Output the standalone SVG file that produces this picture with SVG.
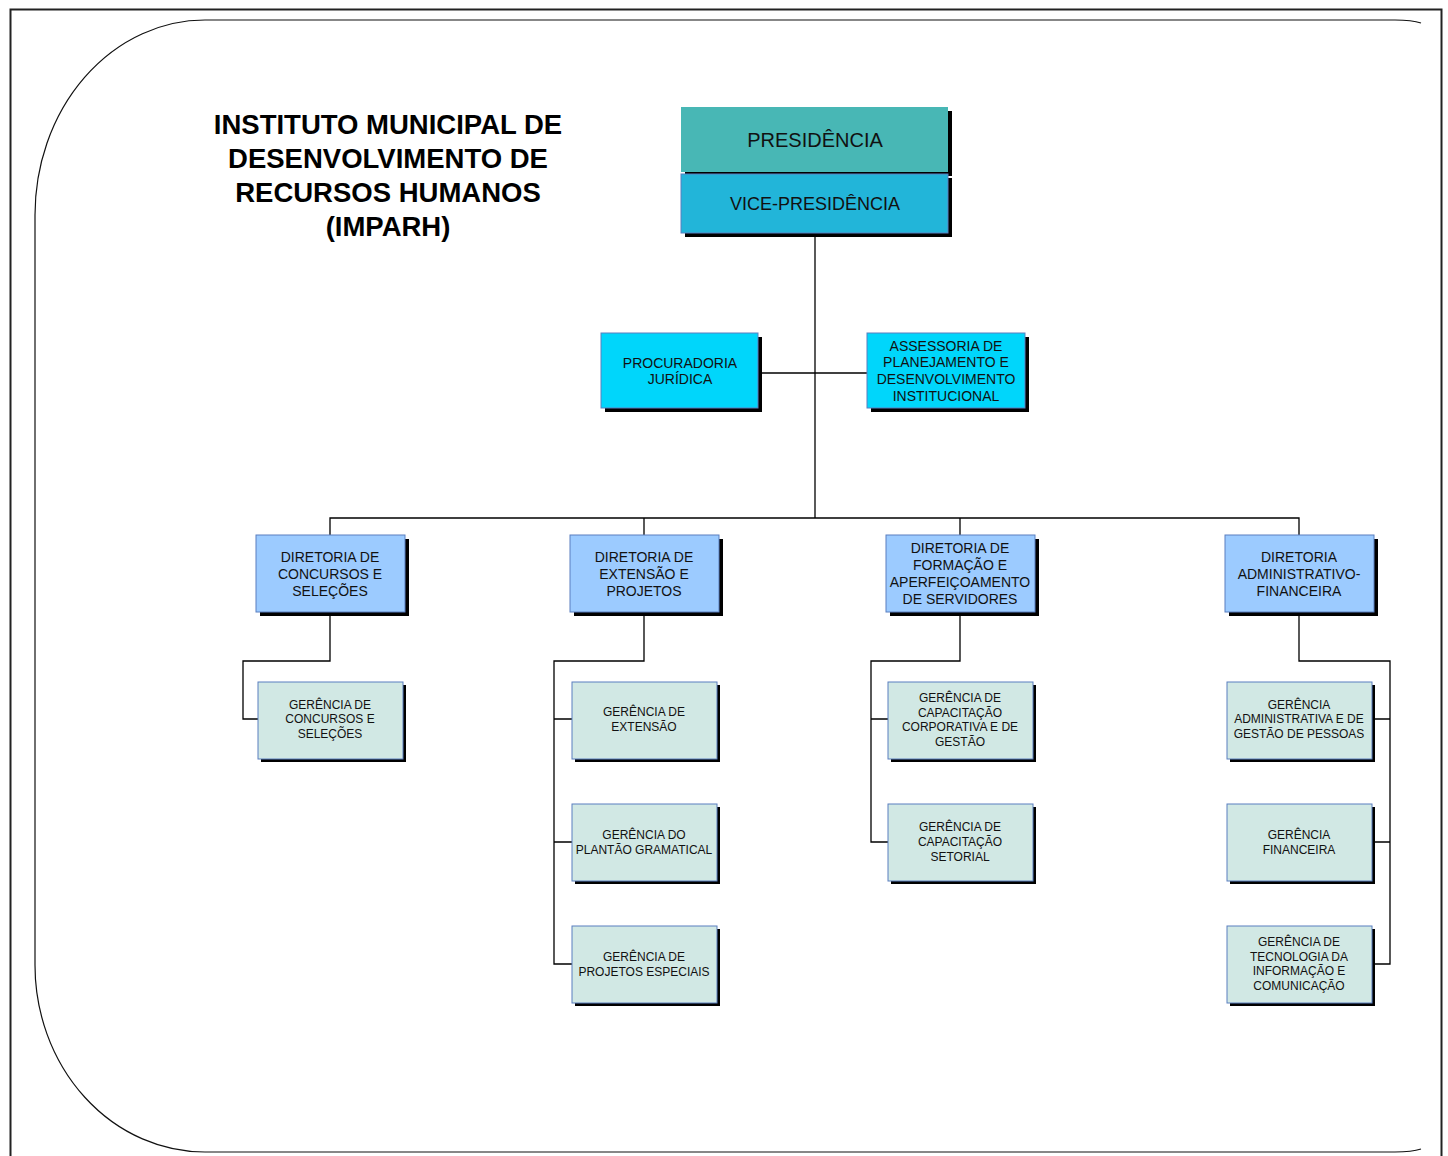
<svg xmlns="http://www.w3.org/2000/svg" width="1448" height="1156" viewBox="0 0 1448 1156">
<style>
.sh{fill:#000}
.b{stroke:#5a7fbf;stroke-width:1}
.pres{fill:#48b7b5}
.vice{fill:#22b5d9}
.ass{fill:#00d6fb}
.dir{fill:#9ccbff}
.ger{fill:#d1e8e4}
.ln{fill:none;stroke:#000;stroke-width:1.3}
text{font-family:"Liberation Sans",Arial,sans-serif;fill:#111;text-anchor:middle}
.t{font-size:27.5px;font-weight:bold;fill:#000}
.p{font-size:20px}
.v{font-size:18px}
.a{font-size:14px}
.d{font-size:14px}
.g{font-size:12px}
</style>
<rect x="0" y="0" width="1448" height="1156" fill="#fff"/>
<rect x="10.5" y="9.5" width="1431" height="1170" fill="none" stroke="#222" stroke-width="2"/>
<path d="M1421 23 Q1412 20 1395 20 L205 20 A170 195 0 0 0 35 215 L35 965 A170 187 0 0 0 205 1152 L1395 1152 Q1412 1152 1421 1149" fill="none" stroke="#111" stroke-width="1.2"/>

<g id="title">
<text class="t" x="388" y="134">INSTITUTO MUNICIPAL DE</text>
<text class="t" x="388" y="168">DESENVOLVIMENTO DE</text>
<text class="t" x="388" y="202">RECURSOS HUMANOS</text>
<text class="t" x="388" y="236">(IMPARH)</text>
</g>

<g id="connectors">
<path class="ln" d="M815 235 V518"/>
<path class="ln" d="M760 373 H867"/>
<path class="ln" d="M330 535 V518 H1299 V535"/>
<path class="ln" d="M644 518 V535"/>
<path class="ln" d="M960 518 V535"/>
<path class="ln" d="M330 615 V661 H243 V719 H258"/>
<path class="ln" d="M644 615 V661 H554 V964 H572 M554 719 H572 M554 842 H572"/>
<path class="ln" d="M960 615 V661 H871 V842 H888 M871 719 H888"/>
<path class="ln" d="M1299 615 V661 H1390 V964 H1375 M1390 719 H1375 M1390 842 H1375"/>
</g>

<g id="presidencia">
<rect class="sh" x="685" y="111" width="267" height="65"/>
<rect class="pres" x="681" y="107" width="267" height="65"/>
<text class="p" x="815" y="147">PRESIDÊNCIA</text>
</g>
<g id="vice-presidencia">
<rect class="sh" x="685" y="178" width="267" height="59"/>
<rect class="vice b" x="681" y="174" width="267" height="59"/>
<text class="v" x="815" y="210">VICE-PRESIDÊNCIA</text>
</g>

<g id="procuradoria">
<rect class="sh" x="605" y="337" width="157" height="75"/>
<rect class="ass b" x="601" y="333" width="157" height="75"/>
<text class="a" x="680" y="368">PROCURADORIA</text>
<text class="a" x="680" y="384">JURÍDICA</text>
</g>
<g id="assessoria">
<rect class="sh" x="871" y="337" width="158" height="75"/>
<rect class="ass b" x="867" y="333" width="158" height="75"/>
<text class="a" x="946" y="351">ASSESSORIA DE</text>
<text class="a" x="946" y="367">PLANEJAMENTO E</text>
<text class="a" x="946" y="384">DESENVOLVIMENTO</text>
<text class="a" x="946" y="401">INSTITUCIONAL</text>
</g>

<g id="dir-concursos">
<rect class="sh" x="260" y="539" width="149" height="77"/>
<rect class="dir b" x="256" y="535" width="149" height="77"/>
<text class="d" x="330" y="562">DIRETORIA DE</text>
<text class="d" x="330" y="579">CONCURSOS E</text>
<text class="d" x="330" y="596">SELEÇÕES</text>
</g>
<g id="dir-extensao">
<rect class="sh" x="574" y="539" width="149" height="77"/>
<rect class="dir b" x="570" y="535" width="149" height="77"/>
<text class="d" x="644" y="562">DIRETORIA DE</text>
<text class="d" x="644" y="579">EXTENSÃO E</text>
<text class="d" x="644" y="596">PROJETOS</text>
</g>
<g id="dir-formacao">
<rect class="sh" x="890" y="539" width="149" height="77"/>
<rect class="dir b" x="886" y="535" width="149" height="77"/>
<text class="d" x="960" y="553">DIRETORIA DE</text>
<text class="d" x="960" y="570">FORMAÇÃO E</text>
<text class="d" x="960" y="587">APERFEIÇOAMENTO</text>
<text class="d" x="960" y="604">DE SERVIDORES</text>
</g>
<g id="dir-administrativa">
<rect class="sh" x="1229" y="539" width="149" height="77"/>
<rect class="dir b" x="1225" y="535" width="149" height="77"/>
<text class="d" x="1299" y="562">DIRETORIA</text>
<text class="d" x="1299" y="579">ADMINISTRATIVO-</text>
<text class="d" x="1299" y="596">FINANCEIRA</text>
</g>

<g id="ger-concursos">
<rect class="sh" x="261" y="685" width="145" height="77"/>
<rect class="ger b" x="258" y="682" width="145" height="77"/>
<text class="g" x="330" y="709">GERÊNCIA DE</text>
<text class="g" x="330" y="723">CONCURSOS E</text>
<text class="g" x="330" y="738">SELEÇÕES</text>
</g>
<g id="ger-extensao">
<rect class="sh" x="575" y="685" width="145" height="77"/>
<rect class="ger b" x="572" y="682" width="145" height="77"/>
<text class="g" x="644" y="716">GERÊNCIA DE</text>
<text class="g" x="644" y="731">EXTENSÃO</text>
</g>
<g id="ger-plantao">
<rect class="sh" x="575" y="807" width="145" height="77"/>
<rect class="ger b" x="572" y="804" width="145" height="77"/>
<text class="g" x="644" y="839">GERÊNCIA DO</text>
<text class="g" x="644" y="854">PLANTÃO GRAMATICAL</text>
</g>
<g id="ger-projetos">
<rect class="sh" x="575" y="929" width="145" height="77"/>
<rect class="ger b" x="572" y="926" width="145" height="77"/>
<text class="g" x="644" y="961">GERÊNCIA DE</text>
<text class="g" x="644" y="976">PROJETOS ESPECIAIS</text>
</g>
<g id="ger-corporativa">
<rect class="sh" x="891" y="685" width="145" height="77"/>
<rect class="ger b" x="888" y="682" width="145" height="77"/>
<text class="g" x="960" y="702">GERÊNCIA DE</text>
<text class="g" x="960" y="717">CAPACITAÇÃO</text>
<text class="g" x="960" y="731">CORPORATIVA E DE</text>
<text class="g" x="960" y="746">GESTÃO</text>
</g>
<g id="ger-setorial">
<rect class="sh" x="891" y="807" width="145" height="77"/>
<rect class="ger b" x="888" y="804" width="145" height="77"/>
<text class="g" x="960" y="831">GERÊNCIA DE</text>
<text class="g" x="960" y="846">CAPACITAÇÃO</text>
<text class="g" x="960" y="861">SETORIAL</text>
</g>
<g id="ger-administrativa">
<rect class="sh" x="1230" y="685" width="145" height="77"/>
<rect class="ger b" x="1227" y="682" width="145" height="77"/>
<text class="g" x="1299" y="709">GERÊNCIA</text>
<text class="g" x="1299" y="723">ADMINISTRATIVA E DE</text>
<text class="g" x="1299" y="738">GESTÃO DE PESSOAS</text>
</g>
<g id="ger-financeira">
<rect class="sh" x="1230" y="807" width="145" height="77"/>
<rect class="ger b" x="1227" y="804" width="145" height="77"/>
<text class="g" x="1299" y="839">GERÊNCIA</text>
<text class="g" x="1299" y="854">FINANCEIRA</text>
</g>
<g id="ger-tecnologia">
<rect class="sh" x="1230" y="929" width="145" height="77"/>
<rect class="ger b" x="1227" y="926" width="145" height="77"/>
<text class="g" x="1299" y="946">GERÊNCIA DE</text>
<text class="g" x="1299" y="961">TECNOLOGIA DA</text>
<text class="g" x="1299" y="975">INFORMAÇÃO E</text>
<text class="g" x="1299" y="990">COMUNICAÇÃO</text>
</g>
</svg>
